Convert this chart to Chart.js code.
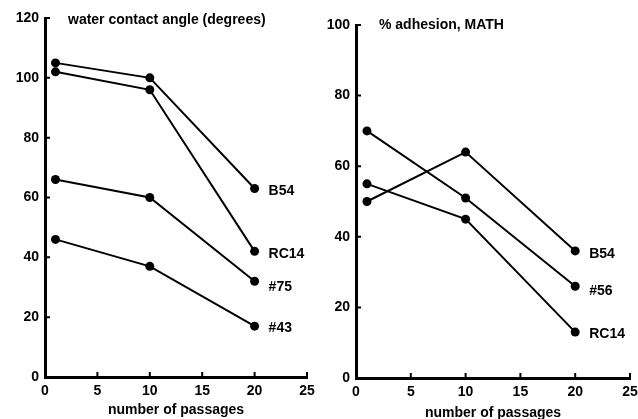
<!DOCTYPE html>
<html>
<head>
<meta charset="utf-8">
<script src="https://cdn.jsdelivr.net/npm/chart.js@4.4.1/dist/chart.umd.min.js"></script>
<style>
  html, body { margin: 0; padding: 0; background: #fff; }
  #wrap { position: relative; width: 638px; height: 419px; }
  .box { position: absolute; top: 0; height: 419px; }
  #leftBox { left: 0; width: 318px; }
  #rightBox { left: 318px; width: 320px; }
</style>
</head>
<body>
<div id="wrap">
  <div class="box" id="leftBox"><canvas id="ContactChart"></canvas></div>
  <div class="box" id="rightBox"><canvas id="MathChart"></canvas></div>
</div>
<script>
// number of passages
var passages = [1, 10, 20];

// water contact angle (degrees)
var contactB54 = [105, 100, 63];
var contactRC14 = [102, 96, 42];
var contact75 = [66, 60, 32];
var contact43 = [46, 37, 17];

// % adhesion, MATH
var mathB54 = [50, 64, 36];
var math56 = [70, 51, 26];
var mathRC14 = [55, 45, 13];

var xTicks = [0, 5, 10, 15, 20, 25];
var contactTicks = [0, 20, 40, 60, 80, 100, 120];
var mathTicks = [0, 20, 40, 60, 80, 100];

var FONT = '"Liberation Sans", Arial, sans-serif';

function points(values) {
    return values.map(function (v, i) { return { x: passages[i], y: v }; });
}

function series(label, values, dy) {
    return {
        label: label,
        data: points(values),
        borderColor: '#000',
        borderWidth: 2,
        backgroundColor: '#000',
        pointRadius: 4.5,
        pointBorderWidth: 0,
        pointHoverRadius: 4.5,
        tension: 0,
        labelDy: dy
    };
}

// small inward tick marks, titles in the plot and labels next to the last points
var decorations = {
    id: 'decorations',
    afterDraw: function (chart, args, opts) {
        var ctx = chart.ctx;
        var area = chart.chartArea;
        var xs = chart.scales.x, ys = chart.scales.y;
        ctx.save();
        ctx.strokeStyle = '#000';
        ctx.lineWidth = 2;
        ctx.beginPath();
        xs.ticks.forEach(function (t) {
            if (t.value === 0) return;
            var px = xs.getPixelForValue(t.value);
            ctx.moveTo(px, area.bottom);
            ctx.lineTo(px, area.bottom - 5);
        });
        ys.ticks.forEach(function (t) {
            if (t.value === 0) return;
            var py = ys.getPixelForValue(t.value);
            ctx.moveTo(area.left, py);
            ctx.lineTo(area.left + 5, py);
        });
        ctx.stroke();

        ctx.fillStyle = '#000';
        ctx.font = 'bold 14px ' + FONT;
        ctx.textBaseline = 'middle';
        ctx.textAlign = 'left';
        ctx.fillText(opts.text, area.left + opts.dx, area.top + opts.dy);

        chart.data.datasets.forEach(function (ds, i) {
            var pts = chart.getDatasetMeta(i).data;
            var last = pts[pts.length - 1];
            ctx.fillText(ds.label, last.x + 14, last.y + ds.labelDy);
        });
        ctx.restore();
    }
};

function makeOptions(yMax, yTicks, title, pad) {
    return {
        responsive: true,
        maintainAspectRatio: false,
        animation: false,
        events: [],
        layout: { padding: { top: pad.top, right: pad.right, bottom: 0, left: 0 } },
        plugins: {
            legend: { display: false },
            tooltip: { enabled: false },
            decorations: title
        },
        scales: {
            x: {
                type: 'linear',
                min: 0,
                max: 25,
                afterBuildTicks: function (axis) {
                    axis.ticks = xTicks.map(function (v) { return { value: v }; });
                },
                afterFit: function (axis) {
                    axis.height = pad.xHeight;
                    axis.paddingLeft = 0;
                    axis.paddingRight = 0;
                },
                grid: { drawOnChartArea: false, drawTicks: false },
                border: { color: '#000', width: 3 },
                ticks: {
                    color: '#000',
                    padding: 6,
                    maxRotation: 0,
                    font: { family: FONT, size: 14, weight: 'bold' }
                },
                title: {
                    display: true,
                    text: 'number of passages',
                    color: '#000',
                    padding: { top: 0, bottom: pad.titleBottom },
                    font: { family: FONT, size: 14, weight: 'bold' }
                }
            },
            y: {
                min: 0,
                max: yMax,
                afterBuildTicks: function (axis) {
                    axis.ticks = yTicks.map(function (v) { return { value: v }; });
                },
                afterFit: function (axis) {
                    axis.width = pad.yWidth;
                    axis.paddingTop = 0;
                    axis.paddingBottom = 0;
                },
                grid: { drawOnChartArea: false, drawTicks: false },
                border: { color: '#000', width: 3 },
                ticks: {
                    color: '#000',
                    padding: 6,
                    font: { family: FONT, size: 14, weight: 'bold' }
                }
            }
        }
    };
}

Chart.register(decorations);

var leftPad = { top: 18, right: 11, xHeight: 42, yWidth: 45, titleBottom: 0 };
var contactCtx = document.getElementById('ContactChart').getContext('2d');
var contactChart = new Chart(contactCtx, {
    type: 'line',
    data: {
        datasets: [
            series('B54', contactB54, 3),
            series('RC14', contactRC14, 3),
            series('#75', contact75, 6),
            series('#43', contact43, 2)
        ]
    },
    options: makeOptions(120, contactTicks,
        { text: 'water contact angle (degrees)', dx: 23, dy: 2 },
        leftPad)
});

var rightPad = { top: 25, right: 8, xHeight: 41, yWidth: 38, titleBottom: -3 };
var mathCtx = document.getElementById('MathChart').getContext('2d');
var mathChart = new Chart(mathCtx, {
    type: 'line',
    data: {
        datasets: [
            series('B54', mathB54, 3),
            series('#56', math56, 5),
            series('RC14', mathRC14, 2)
        ]
    },
    options: makeOptions(100, mathTicks,
        { text: '% adhesion, MATH', dx: 23, dy: 0 },
        rightPad)
});
</script>
</body>
</html>
